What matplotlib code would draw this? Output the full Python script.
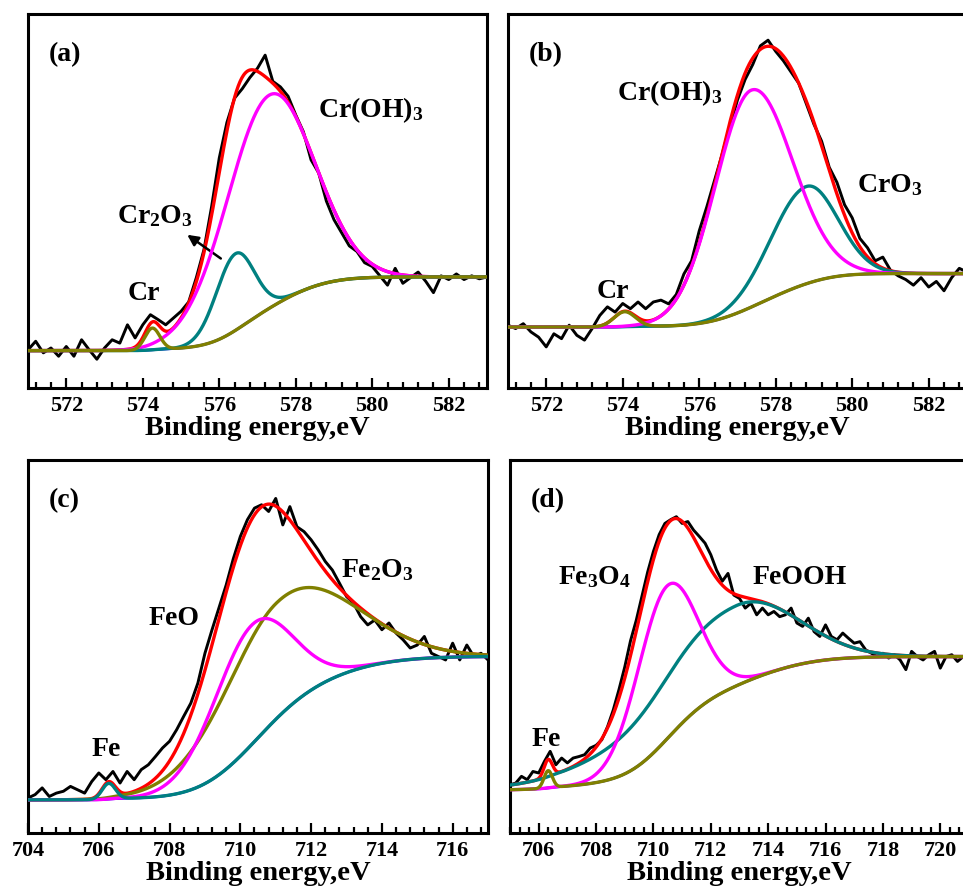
import numpy as np
import matplotlib
matplotlib.use('Agg')
import matplotlib.pyplot as plt
from matplotlib.ticker import MultipleLocator, AutoMinorLocator

plt.rcParams['font.family'] = ['Liberation Serif', 'DejaVu Serif']
plt.rcParams['font.weight'] = 'bold'
plt.rcParams['mathtext.fontset'] = 'custom'
plt.rcParams['mathtext.rm'] = 'Liberation Serif:bold'
plt.rcParams['mathtext.it'] = 'Liberation Serif:bold'
plt.rcParams['mathtext.bf'] = 'Liberation Serif:bold'
plt.rcParams['mathtext.default'] = 'rm'

STEP = 0.2  # eV, spacing of the measured points

# ---- (a) Cr 2p, sample 1 ----
a_start = 571.0
a_raw = [10.2, 12.5, 9.4, 10.7, 8.5, 11.1, 8.5, 12.9, 10.2, 7.7,
         10.7, 12.9, 12.0, 16.9, 13.4, 16.9, 19.6, 18.3, 16.9, 18.7,
         20.5, 23.0, 29.5, 37.0, 48.5, 61.5, 71.0, 77.5, 80.0, 83.0,
         85.5, 89.0, 82.0, 80.5, 78.0, 73.0, 68.5, 61.0, 57.5, 50.0,
         45.0, 41.5, 38.0, 36.5, 33.5, 32.5, 30.0, 27.5, 32.0, 28.0,
         29.5, 31.0, 28.5, 25.5, 30.0, 29.0, 30.5, 29.0, 30.0, 29.2,
         29.7]
a_bg = (10.0, 29.7)
a_center = [577.3, 576.42, 574.25]      # Cr(OH)3, Cr2O3, Cr
a_height = [57.0, 20.5, 5.8]
a_hw_left = [1.35, 0.60, 0.23]
a_hw_right = [1.35, 0.58, 0.23]

# ---- (b) Cr 2p, sample 2 ----
b_start = 571.0
b_raw = [16.8, 15.9, 17.2, 15.0, 13.6, 11.0, 14.5, 13.2, 16.8, 14.1,
         12.8, 15.9, 19.4, 21.7, 20.3, 22.6, 21.2, 23.0, 21.2, 23.0,
         23.5, 22.5, 25.0, 30.5, 34.0, 42.0, 48.5, 55.5, 62.5, 70.0,
         77.0, 82.5, 86.5, 91.5, 93.0, 90.0, 87.5, 84.5, 81.5, 76.0,
         70.5, 66.0, 59.0, 55.0, 49.0, 45.5, 40.0, 37.5, 34.0, 35.0,
         31.5, 30.0, 29.0, 27.5, 29.5, 27.0, 28.5, 26.0, 29.5, 32.0,
         31.0]
b_bg = (16.3, 30.6)
b_center = [578.8, 577.35, 574.05]      # CrO3, Cr(OH)3, Cr
b_height = [26.0, 58.0, 4.0]
b_hw_left = [1.10, 1.12, 0.33]
b_hw_right = [0.95, 1.25, 0.33]

# ---- (c) Fe 2p, sample 1 ----
c_start = 704.0
c_raw = [9.4, 10.3, 12.1, 9.8, 10.7, 11.2, 12.5, 11.6, 10.7, 13.8,
         16.1, 14.3, 16.5, 13.4, 16.5, 14.3, 17.0, 18.3, 20.5, 22.8,
         24.6, 27.7, 31.3, 34.8, 40.2, 48.2, 54.5, 60.5, 66.5, 73.5,
         79.5, 84.0, 87.1, 88.0, 86.2, 89.7, 82.6, 87.5, 82.1, 80.8,
         78.6, 75.9, 72.8, 70.5, 67.0, 63.4, 61.6, 58.0, 55.8, 57.1,
         54.5, 56.3, 53.6, 51.8, 49.6, 50.4, 52.7, 48.2, 47.3, 46.4,
         50.9, 46.4, 50.4, 47.3, 48.2, 46.4]
c_bg = (8.9, 47.3)
c_center = [711.0, 710.3, 706.28]       # Fe2O3, FeO, Fe
c_height = [31.0, 32.0, 4.2]
c_hw_left = [1.9, 1.3, 0.22]
c_hw_right = [2.4, 1.3, 0.22]

# ---- (d) Fe 2p, sample 2 ----
d_start = 705.0
d_raw = [12.9, 13.4, 15.2, 14.3, 16.5, 16.1, 19.2, 21.9, 18.3, 20.1,
         18.8, 20.1, 20.5, 21.0, 22.8, 23.5, 25.0, 28.5, 33.0, 38.5,
         44.5, 51.5, 57.0, 63.5, 70.0, 75.5, 80.0, 83.0, 84.0, 84.8,
         83.0, 83.5, 81.2, 79.5, 77.7, 74.6, 70.5, 67.5, 69.6, 63.8,
         62.9, 60.3, 61.6, 58.5, 60.3, 58.5, 59.4, 58.0, 58.5, 60.3,
         56.3, 55.4, 57.6, 54.0, 52.7, 55.8, 52.7, 51.8, 53.6, 52.2,
         50.9, 51.3, 49.1, 48.2, 47.3, 48.2, 46.9, 47.8, 46.4, 43.8,
         48.7, 47.3, 46.4, 47.8, 48.7, 44.2, 47.3, 47.8, 46.0, 47.3,
         47.5]
d_bg = (11.6, 47.3)
d_center = [712.9, 710.45, 706.33]      # FeOOH, Fe3O4, Fe
d_height = [21.5, 41.0, 4.6]
d_hw_left = [3.9, 1.2, 0.17]
d_hw_right = [2.35, 1.25, 0.17]


def peak(x, c, h, wl, wr):
    w = np.where(x < c, wl, wr)
    return h * np.exp(-np.log(2) * ((x - c) / w) ** 2)


def draw_panel(ax, start, raw, bg, centers, heights, wl, wr, colors, xlim):
    xr = start + STEP * np.arange(len(raw))
    xf = np.linspace(xlim[0], xlim[1], 800)
    peaks = [peak(xf, c, h, l, r) for c, h, l, r in zip(centers, heights, wl, wr)]
    total = np.sum(peaks, axis=0)
    cum = np.cumsum(total)
    base = bg[0] + (bg[1] - bg[0]) * cum / cum[-1]   # Shirley-type background

    ax.plot(xr, raw, color='black', lw=2.1, zorder=1)
    ax.plot(xf, base + total, color='red', lw=2.4, zorder=2)
    ax.plot(xf, base, color='blue', lw=2.0, zorder=3)
    for p, col in zip(peaks, colors):
        ax.plot(xf, base + p, color=col, lw=2.4, zorder=4)

    ax.set_xlim(*xlim)
    ax.set_ylim(0, 100)
    for s in ax.spines.values():
        s.set_linewidth(2.2)
    ax.tick_params(axis='x', which='both', direction='in', top=False,
                   labelsize=16, pad=6, width=1.6)
    ax.tick_params(axis='x', which='major', length=7)
    ax.tick_params(axis='x', which='minor', length=4)
    ax.tick_params(axis='y', left=False, right=False, labelleft=False)
    ax.xaxis.set_major_locator(MultipleLocator(2))
    ax.set_xlabel('Binding energy,eV', fontsize=20.5, fontweight='bold', labelpad=0)


fig = plt.figure(figsize=(9.63, 8.92), dpi=100)
axa = fig.add_axes([0.0291, 0.5650, 0.4766, 0.4193])
axb = fig.add_axes([0.5275, 0.5650, 0.4766, 0.4193])
axc = fig.add_axes([0.0291, 0.0661, 0.4777, 0.4182])
axd = fig.add_axes([0.5296, 0.0661, 0.4766, 0.4182])

draw_panel(axa, a_start, a_raw, a_bg, a_center, a_height, a_hw_left, a_hw_right,
           ['magenta', '#008080', '#808000'], (571, 583))
draw_panel(axb, b_start, b_raw, b_bg, b_center, b_height, b_hw_left, b_hw_right,
           ['#008080', 'magenta', '#808000'], (571, 583))
draw_panel(axc, c_start, c_raw, c_bg, c_center, c_height, c_hw_left, c_hw_right,
           ['#808000', 'magenta', '#008080'], (704, 717))
draw_panel(axd, d_start, d_raw, d_bg, d_center, d_height, d_hw_left, d_hw_right,
           ['#008080', 'magenta', '#808000'], (705, 721))

for ax in (axa, axb, axc):
    ax.xaxis.set_minor_locator(AutoMinorLocator(5))
axd.xaxis.set_minor_locator(AutoMinorLocator(6))

lab = dict(fontsize=20, fontweight='bold', va='baseline', ha='left')
for ax, t in ((axa, '(a)'), (axb, '(b)'), (axc, '(c)'), (axd, '(d)')):
    ax.text(0.045, 0.875, t, transform=ax.transAxes, **lab)

axa.text(0.632, 0.725, r'Cr(OH)$_3$', transform=axa.transAxes, **lab)
axa.text(0.194, 0.441, r'Cr$_2$O$_3$', transform=axa.transAxes, **lab)
axa.text(0.218, 0.235, 'Cr', transform=axa.transAxes, **lab)
axa.annotate('', xy=(0.342, 0.414), xytext=(0.425, 0.342),
             xycoords='axes fraction', textcoords='axes fraction',
             arrowprops=dict(arrowstyle='-|>', color='black', lw=1.8,
                             mutation_scale=16))

axb.text(0.237, 0.770, r'Cr(OH)$_3$', transform=axb.transAxes, **lab)
axb.text(0.760, 0.524, r'CrO$_3$', transform=axb.transAxes, **lab)
axb.text(0.194, 0.241, 'Cr', transform=axb.transAxes, **lab)

axc.text(0.680, 0.686, r'Fe$_2$O$_3$', transform=axc.transAxes, **lab)
axc.text(0.261, 0.558, 'FeO', transform=axc.transAxes, **lab)
axc.text(0.139, 0.206, 'Fe', transform=axc.transAxes, **lab)

axd.text(0.105, 0.668, r'Fe$_3$O$_4$', transform=axd.transAxes, **lab)
axd.text(0.529, 0.668, 'FeOOH', transform=axd.transAxes, **lab)
axd.text(0.046, 0.233, 'Fe', transform=axd.transAxes, **lab)

fig.savefig('out.png', dpi=100)
